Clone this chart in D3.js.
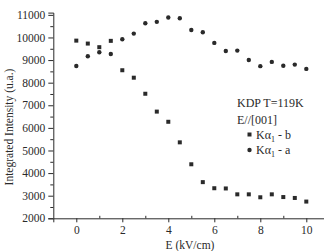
<!DOCTYPE html>
<html>
<head>
<meta charset="utf-8">
<script src="https://cdn.jsdelivr.net/npm/d3@7"></script>
<style>
  body { margin: 0; background: #fff; }
  svg { font-family: "Liberation Serif", "Times New Roman", serif; }
</style>
</head>
<body>
<div id="chart"></div>
<script>
// Field values E (kV/cm)
const fieldE = [0, 0.5, 1, 1.5, 2, 2.5, 3, 3.5, 4, 4.5, 5, 5.5, 6, 6.5, 7, 7.5, 8, 8.5, 9, 9.5, 10];
// K-alpha1 - b (squares)
const seriesB = [9860, 9730, 9570, 9850, 8550, 8220, 7510, 6720, 6270, 5360, 4390, 3600, 3330, 3320, 3060, 3060, 2930, 3060, 2940, 2900, 2740];
// K-alpha1 - a (circles)
const seriesA = [8740, 9170, 9345, 9270, 9920, 10170, 10630, 10690, 10880, 10850, 10330, 10230, 9760, 9400, 9420, 9000, 8730, 8920, 8750, 8800, 8610];

const xTicks = [0, 2, 4, 6, 8, 10];
const yTicks = [2000, 3000, 4000, 5000, 6000, 7000, 8000, 9000, 10000, 11000];

const width = 324, height = 251;
const ink = '#2a2a2a';

const svg = d3.select('#chart')
    .append('svg')
    .attr('width', width)
    .attr('height', height);

const x = d3.scaleLinear().domain([-1, 11]).range([53.3, 329.3]);
const y = d3.scaleLinear().domain([2000, 11100]).range([218.3, 12.6]);

// Axes
svg.append('g')
    .attr('transform', `translate(0,${y(2000)})`)
    .call(d3.axisBottom(x).tickValues(xTicks).tickSize(4).tickPadding(4).tickFormat(d3.format('d')));
// minor x ticks point inward (up)
svg.append('g')
    .attr('transform', `translate(0,${y(2000)})`)
    .call(d3.axisTop(x).tickValues(d3.range(1, 11, 2)).tickSize(2.5).tickFormat(''))
    .select('.domain').remove();

svg.append('g')
    .attr('transform', `translate(${x(-1)},0)`)
    .call(d3.axisLeft(y).tickValues(yTicks).tickSize(5).tickPadding(3).tickFormat(d3.format('d')));
svg.append('g')
    .attr('transform', `translate(${x(-1)},0)`)
    .call(d3.axisLeft(y).tickValues(d3.range(2500, 11100, 1000)).tickSize(3).tickFormat(''))
    .select('.domain').remove();

svg.selectAll('.domain').attr('stroke', ink).attr('stroke-width', 1);
svg.selectAll('.tick line').attr('stroke', ink);
svg.selectAll('.tick text')
    .attr('fill', ink)
    .style('font-family', '"Liberation Serif", serif')
    .style('font-size', '11.5px');

// Axis titles
svg.append('text')
    .attr('x', 190)
    .attr('y', 249)
    .attr('text-anchor', 'middle')
    .attr('fill', ink)
    .style('font-size', '11.5px')
    .text('E (kV/cm)');

svg.append('text')
    .attr('transform', 'translate(13,127) rotate(-90)')
    .attr('text-anchor', 'middle')
    .attr('fill', ink)
    .style('font-size', '11.5px')
    .text('Integrated Intensity (u.a.)');

// Markers
svg.selectAll('.sq')
    .data(fieldE.map((e, i) => ({ e, v: seriesB[i] })))
    .enter()
    .append('rect')
    .attr('class', 'sq')
    .attr('x', d => x(d.e) - 2)
    .attr('y', d => y(d.v) - 2)
    .attr('width', 4)
    .attr('height', 4)
    .attr('fill', ink);

svg.selectAll('.dot')
    .data(fieldE.map((e, i) => ({ e, v: seriesA[i] })))
    .enter()
    .append('circle')
    .attr('class', 'dot')
    .attr('cx', d => x(d.e))
    .attr('cy', d => y(d.v))
    .attr('r', 2.2)
    .attr('fill', ink);

// Legend
const legend = svg.append('g').attr('fill', ink).style('font-size', '12px');
legend.append('text').attr('x', 237).attr('y', 107).text('KDP T=119K');
legend.append('text').attr('x', 237).attr('y', 124).text('E//[001]');

const entries = [
    { shape: 'sq', label: 'b', cy: 134.5 },
    { shape: 'dot', label: 'a', cy: 150 }
];
entries.forEach(d => {
    if (d.shape === 'sq') {
        legend.append('rect').attr('x', 247.5).attr('y', d.cy - 2).attr('width', 4).attr('height', 4);
    } else {
        legend.append('circle').attr('cx', 249.5).attr('cy', d.cy).attr('r', 2.2);
    }
    const t = legend.append('text').attr('x', 256).attr('y', d.cy + 4);
    t.append('tspan').text('K\u03b1');
    t.append('tspan').attr('dy', 3).style('font-size', '8px').text('1');
    t.append('tspan').attr('dy', -3).text(' - ' + d.label);
});
</script>
</body>
</html>
